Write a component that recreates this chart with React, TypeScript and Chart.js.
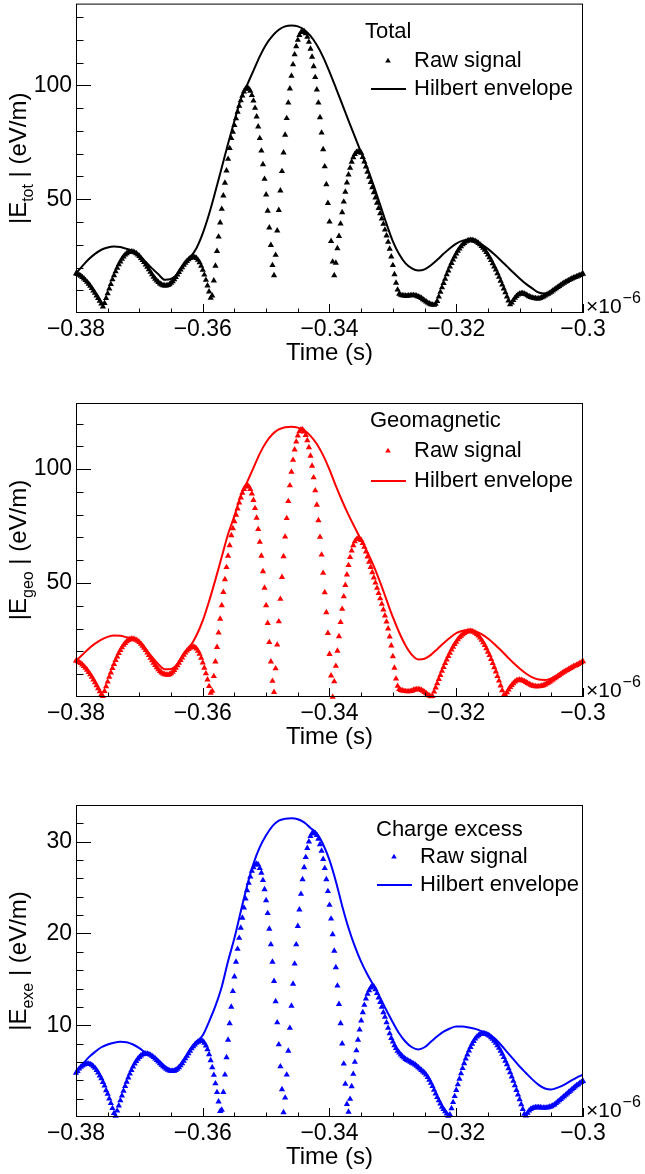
import React, { useEffect, useRef } from "react";
import { Chart, registerables } from "chart.js";

Chart.register(...registerables);

// ---------------- data ----------------
// sample times: raw signal every 0.25 ns, Hilbert envelope every 1 ns, starting at -0.38 µs
const TIME_START = -0.38; // µs
const RAW_STEP = 0.00025; // µs
const ENV_STEP = 0.001; // µs

const X_TICK_VALUES = [-0.38, -0.36, -0.34, -0.32, -0.3];
const X_TICK_LABELS = ["\u22120.38", "\u22120.36", "\u22120.34", "\u22120.32", "\u22120.3"];

const totalRaw = [
  17.3, 17.05, 16.7, 16.3, 15.7, 15.1, 14.4, 13.6,
  12.8, 11.9, 10.9, 9.8, 8.8, 7.6, 6.5, 5.3,
  4.1, 2.8, 4.3, 6.5, 8.6, 10.7, 12.7, 14.7,
  16.5, 18.25, 19.85, 21.3, 22.6, 23.8, 24.8, 25.6,
  26.2, 26.7, 26.9, 27.0, 26.9, 26.6, 26.2, 25.6,
  25.0, 24.1, 23.25, 22.3, 21.2, 20.2, 19.1, 18.0,
  16.9, 15.9, 15.0, 14.2, 13.5, 12.9, 12.45, 12.16,
  12.0, 12.03, 12.2, 12.6, 13.2, 13.9, 14.8, 15.7,
  16.8, 17.9, 19.0, 20.0, 21.1, 22.0, 22.8, 23.5,
  24.1, 24.4, 24.6, 24.5, 24.1, 23.3, 22.2, 20.65,
  18.9, 16.8, 14.5, 12.0, 9.4, 6.6, 7.6, 14.2,
  20.7, 27.2, 33.5, 39.7, 45.7, 51.6, 57.2, 62.6,
  67.7, 72.4, 76.8, 79.6, 82.5, 85.5, 88.4, 91.0,
  93.4, 95.5, 97.3, 98.5, 99.0, 98.6, 97.6, 95.7,
  93.3, 90.1, 86.3, 81.9, 76.8, 71.3, 65.3, 58.9,
  52.0, 44.9, 37.5, 29.8, 21.0, 16.5, 25.5, 36.2,
  45.2, 53.8, 62.3, 70.5, 78.3, 85.6, 92.4, 98.6,
  104.2, 109.2, 113.6, 117.2, 120.0, 122.1, 123.4, 124.0,
  123.8, 122.9, 121.3, 119.1, 116.1, 112.6, 108.4, 103.6,
  98.2, 92.4, 86.0, 79.2, 71.9, 64.4, 56.5, 48.3,
  40.1, 31.6, 22.5, 16.5, 22.0, 28.4, 33.8, 39.2,
  44.2, 48.9, 53.2, 57.3, 60.8, 63.8, 66.4, 68.4,
  69.8, 70.7, 71.0, 70.9, 70.4, 68.5, 66.5, 64.3,
  62.0, 59.8, 57.5, 55.2, 53.0, 50.7, 48.4, 46.1,
  43.8, 41.5, 39.1, 36.6, 34.0, 31.2, 28.2, 24.8,
  21.0, 17.0, 13.2, 10.2, 8.4, 7.9, 7.7, 7.6,
  7.5, 7.5, 7.6, 7.7, 7.8, 7.8, 7.7, 7.5,
  7.2, 6.9, 6.5, 6.0, 5.5, 5.0, 4.5, 4.1,
  3.8, 3.6, 3.5, 4.0, 5.2, 7.2, 9.2, 11.2,
  13.1, 15.0, 16.9, 18.6, 20.3, 21.9, 23.4, 24.8,
  26.1, 27.3, 28.3, 29.3, 30.1, 30.7, 31.3, 31.7,
  31.9, 32.0, 32.0, 31.8, 31.55, 31.2, 30.7, 30.1,
  29.4, 28.6, 27.7, 26.7, 25.6, 24.4, 23.2, 21.8,
  20.4, 19.0, 17.4, 15.8, 14.1, 12.4, 10.7, 9.0,
  7.2, 5.4, 3.8, 4.5, 5.6, 6.6, 7.4, 8.0,
  8.4, 8.6, 8.6, 8.4, 8.1, 7.7, 7.3, 7.0,
  6.7, 6.5, 6.4, 6.3, 6.3, 6.5, 6.8, 7.2,
  7.6, 8.0, 8.4, 8.8, 9.3, 9.8, 10.3, 10.8,
  11.3, 11.8, 12.3, 12.8, 13.2, 13.6, 14.0, 14.4,
  14.8, 15.1, 15.4, 15.7, 16.0, 16.3, 16.6, 16.9,
  17.2,
];

const totalEnv = [
  17.4, 20.6, 23.6, 26.0, 27.8, 28.8, 29.2, 29.0, 28.2, 27.1,
  25.3, 22.5, 19.6, 17.0, 14.6, 15.0, 17.2, 21.3, 24.4, 28.5,
  35.0, 43.5, 53.5, 64.0, 74.5, 84.5, 94.0, 100.3, 106.5, 112.8,
  118.0, 121.8, 124.5, 126.0, 126.4, 126.0, 124.5, 121.8, 117.8, 112.5,
  106.0, 99.0, 91.8, 84.6, 77.5, 70.5, 63.5, 55.8, 47.5, 39.2,
  31.5, 25.8, 21.8, 19.6, 18.7, 19.2, 21.0, 23.4, 26.0, 28.5,
  30.5, 31.8, 32.2, 31.6, 30.2, 28.2, 25.8, 23.2, 20.5, 17.8,
  15.2, 12.8, 10.8, 9.0, 8.6, 9.4, 11.4, 13.3, 14.9, 16.2,
  17.3,
];

const geoRaw = [
  15.9, 15.6, 15.25, 14.8, 14.2, 13.5, 12.7, 11.9,
  10.9, 9.9, 8.8, 7.6, 6.4, 5.1, 3.8, 2.4,
  1.1, 0.3, 2.55, 4.65, 6.7, 8.8, 10.7, 12.6,
  14.4, 16.2, 17.7, 19.2, 20.5, 21.7, 22.8, 23.6,
  24.4, 24.9, 25.3, 25.5, 25.5, 25.3, 25.0, 24.6,
  24.0, 23.3, 22.4, 21.5, 20.5, 19.4, 18.3, 17.1,
  16.0, 14.95, 13.9, 13.0, 12.1, 11.35, 10.7, 10.2,
  9.9, 9.73, 9.72, 9.9, 10.3, 10.96, 11.8, 12.7,
  13.8, 14.9, 16.1, 17.25, 18.4, 19.4, 20.3, 21.0,
  21.55, 21.9, 22.0, 21.8, 21.2, 20.2, 18.9, 17.1,
  15.1, 12.8, 10.3, 7.6, 4.7, 1.8, 2.6, 9.1,
  15.5, 21.9, 28.2, 34.3, 40.2, 46.0, 51.6, 56.9,
  61.9, 66.5, 70.9, 74.0, 77.0, 79.9, 82.6, 85.2,
  87.5, 89.5, 91.2, 92.3, 92.8, 92.4, 91.2, 89.2,
  86.4, 82.8, 78.6, 73.6, 68.0, 61.9, 55.1, 47.9,
  40.2, 32.4, 24.0, 15.5, 7.0, 2.1, 12.5, 22.9,
  33.1, 43.0, 52.6, 61.7, 70.3, 78.4, 85.9, 92.8,
  98.8, 104.0, 108.5, 112.0, 114.7, 116.5, 117.3, 117.3,
  116.4, 114.9, 112.6, 109.5, 105.8, 101.4, 96.3, 90.6,
  84.3, 77.5, 70.2, 62.4, 54.4, 45.9, 37.1, 28.0,
  18.8, 9.4, 0.0, 6.8, 13.6, 20.2, 26.6, 32.8,
  38.6, 44.1, 49.1, 53.7, 57.8, 61.3, 64.2, 66.5,
  68.2, 69.2, 69.5, 69.3, 68.8, 67.5, 65.8, 63.8,
  61.6, 59.3, 57.0, 54.7, 52.4, 50.1, 47.8, 45.5,
  43.2, 40.8, 38.3, 35.7, 33.0, 30.0, 26.5, 22.5,
  17.8, 12.8, 8.0, 4.8, 3.4, 3.0, 2.8, 2.6,
  2.5, 2.4, 2.4, 2.5, 2.7, 3.0, 3.2, 3.4,
  3.4, 3.3, 3.0, 2.6, 2.1, 1.6, 1.1, 0.6,
  0.2, 0.4, 2.3, 4.1, 6.0, 7.8, 9.6, 11.4,
  13.1, 14.8, 16.4, 17.9, 19.3, 20.7, 22.0, 23.2,
  24.2, 25.2, 26.1, 26.8, 27.5, 28.0, 28.4, 28.7,
  28.9, 28.9, 28.8, 28.5, 28.1, 27.6, 26.9, 26.0,
  25.0, 23.9, 22.7, 21.3, 19.8, 18.3, 16.6, 14.8,
  13.0, 11.1, 9.1, 7.1, 5.0, 2.9, 0.8, 0.9,
  2.0, 3.2, 4.3, 5.2, 6.0, 6.7, 7.2, 7.4,
  7.5, 7.4, 7.2, 6.9, 6.5, 6.1, 5.7, 5.3,
  5.0, 4.8, 4.65, 4.6, 4.6, 4.7, 4.9, 5.1,
  5.4, 5.8, 6.2, 6.6, 7.1, 7.6, 8.1, 8.6,
  9.1, 9.6, 10.1, 10.6, 11.0, 11.4, 11.8, 12.2,
  12.6, 13.0, 13.4, 13.7, 14.0, 14.4, 14.8, 15.2,
  15.6,
];

const geoEnv = [
  15.9, 18.5, 21.2, 23.4, 25.2, 26.4, 27.0, 26.9, 26.2, 25.7,
  24.3, 21.0, 17.6, 14.4, 12.2, 12.3, 14.5, 18.8, 22.2, 27.0,
  33.5, 42.0, 51.5, 61.5, 71.5, 79.5, 88.3, 94.3, 100.5, 106.8,
  111.8, 115.3, 117.4, 118.4, 118.6, 118.2, 117.0, 114.6, 111.0, 106.0,
  99.8, 92.6, 86.0, 79.9, 74.3, 68.9, 63.4, 57.3, 50.3, 42.6,
  35.0, 28.3, 22.6, 18.5, 16.5, 16.8, 18.5, 21.0, 23.6, 26.0,
  28.0, 29.1, 29.4, 28.9, 27.6, 25.7, 23.3, 20.6, 17.8, 15.0,
  12.5, 10.3, 8.6, 7.7, 7.5, 8.2, 9.6, 11.3, 12.9, 14.3,
  15.7,
];

const exeRaw = [
  4.8, 5.0, 5.25, 5.45, 5.6, 5.7, 5.78, 5.8,
  5.8, 5.75, 5.66, 5.5, 5.34, 5.1, 4.84, 4.5,
  4.2, 3.8, 3.4, 2.9, 2.5, 2.0, 1.5, 0.95,
  0.42, 0.11, 0.68, 1.23, 1.79, 2.33, 2.85, 3.36,
  3.83, 4.29, 4.71, 5.11, 5.47, 5.8, 6.09, 6.33,
  6.53, 6.69, 6.81, 6.88, 6.9, 6.88, 6.83, 6.75,
  6.65, 6.51, 6.36, 6.2, 6.02, 5.84, 5.67, 5.5,
  5.36, 5.23, 5.13, 5.05, 5.01, 5.0, 5.03, 5.11,
  5.24, 5.41, 5.61, 5.84, 6.1, 6.37, 6.65, 6.93,
  7.2, 7.46, 7.69, 7.89, 8.06, 8.19, 8.27, 8.3,
  8.26, 8.08, 7.78, 7.36, 6.82, 6.16, 5.4, 4.57,
  3.65, 2.69, 1.67, 0.63, 0.77, 2.7, 4.6, 6.5,
  8.4, 10.2, 12.0, 13.7, 15.3, 16.9, 18.3, 19.5,
  20.6, 21.7, 22.8, 23.8, 24.7, 25.5, 26.2, 26.8,
  27.2, 27.5, 27.6, 27.5, 27.1, 26.6, 25.8, 24.8,
  23.6, 22.2, 20.5, 18.8, 16.9, 14.8, 12.6, 10.3,
  7.9, 5.5, 3.0, 0.5, 2.1, 4.6, 7.2, 9.7,
  12.1, 14.5, 16.7, 18.8, 20.8, 22.6, 24.3, 25.9,
  27.2, 28.3, 29.3, 30.0, 30.6, 30.9, 31.0, 30.9,
  30.7, 30.3, 29.7, 29.0, 28.1, 27.1, 25.9, 24.6,
  23.1, 21.6, 19.9, 18.1, 16.3, 14.3, 12.3, 10.2,
  8.0, 5.8, 3.6, 1.4, 0.56, 1.96, 3.34, 4.68,
  5.99, 7.24, 8.4, 9.5, 10.5, 11.4, 12.2, 12.9,
  13.4, 13.8, 14.1, 14.3, 14.2, 13.9, 13.5, 13.0,
  12.5, 12.0, 11.4, 10.9, 10.3, 9.7, 9.1, 8.6,
  8.2, 7.8, 7.5, 7.2, 7.0, 6.8, 6.6, 6.45,
  6.3, 6.2, 6.1, 6.0, 5.9, 5.8, 5.7, 5.55,
  5.4, 5.25, 5.1, 4.95, 4.8, 4.6, 4.35, 4.05,
  3.7, 3.35, 2.95, 2.55, 2.15, 1.8, 1.45, 1.1,
  0.85, 0.6, 0.35, 0.12, 0.27, 0.94, 1.61, 2.26,
  2.92, 3.54, 4.16, 4.74, 5.31, 5.84, 6.34, 6.8,
  7.23, 7.62, 7.97, 8.27, 8.53, 8.74, 8.9, 9.02,
  9.08, 9.1, 9.08, 9.02, 8.94, 8.83, 8.68, 8.51,
  8.3, 8.07, 7.81, 7.52, 7.21, 6.87, 6.51, 6.12,
  5.73, 5.3, 4.85, 4.4, 3.92, 3.44, 2.93, 2.42,
  1.91, 1.38, 0.86, 0.32, 0.15, 0.45, 0.7, 0.85,
  0.95, 1.0, 1.05, 1.05, 1.05, 1.05, 1.0, 1.0,
  1.0, 1.0, 1.05, 1.1, 1.15, 1.25, 1.35, 1.5,
  1.65, 1.8, 1.95, 2.1, 2.25, 2.4, 2.55, 2.7,
  2.85, 3.0, 3.15, 3.3, 3.45, 3.55, 3.7, 3.8,
  3.9,
];

const exeEnv = [
  4.8, 5.7, 6.5, 7.1, 7.6, 7.9, 8.1, 8.2, 8.15, 7.9,
  7.5, 7.0, 6.7, 6.2, 5.55, 5.15, 5.35, 6.2, 7.3, 8.2,
  8.9, 10.4, 12.1, 14.2, 17.0, 19.5, 22.4, 25.2, 27.6, 29.4,
  30.7, 31.7, 32.3, 32.5, 32.55, 32.45, 32.1, 31.5, 30.9, 29.7,
  28.0, 25.7, 23.0, 20.6, 18.6, 16.9, 15.5, 14.3, 13.0, 11.6,
  10.3, 9.1, 8.2, 7.6, 7.35, 7.6, 8.2, 8.8, 9.3, 9.65,
  9.85, 9.85, 9.75, 9.6, 9.35, 9.1, 8.6, 7.9, 7.1, 6.3,
  5.5, 4.8, 4.1, 3.5, 3.1, 3.0, 3.2, 3.5, 3.9, 4.3,
  4.6,
];

// ---------------- layout / style ----------------
const FONT = '"Liberation Sans", Arial, Helvetica, sans-serif';
const PAGE_W = 645;
const FRAME_LEFT = 76;
const FRAME_RIGHT = 583;

type Panel = {
  raw: number[];
  env: number[];
  color: string;
  header: string;
  sub: string;
  yMax: number;
  yLabels: number[];
  yMajor: number;
  yMinor: number;
  canvasTop: number;
  canvasH: number;
  frameTop: number;
  frameBottom: number;
  headerX: number;
  legendX: number;
  legendY: number[];
};

const PANELS: Panel[] = [
  {
    raw: totalRaw, env: totalEnv, color: "#000000", header: "Total", sub: "tot",
    yMax: 136, yLabels: [50, 100], yMajor: 50, yMinor: 10,
    canvasTop: 0, canvasH: 385, frameTop: 3, frameBottom: 313,
    headerX: 365, legendX: 414, legendY: [32, 61, 89],
  },
  {
    raw: geoRaw, env: geoEnv, color: "#ff0000", header: "Geomagnetic", sub: "geo",
    yMax: 129, yLabels: [50, 100], yMajor: 50, yMinor: 10,
    canvasTop: 385, canvasH: 395, frameTop: 403, frameBottom: 697,
    headerX: 370, legendX: 414, legendY: [421, 451, 481],
  },
  {
    raw: exeRaw, env: exeEnv, color: "#0000ff", header: "Charge excess", sub: "exe",
    yMax: 34, yLabels: [10, 20, 30], yMajor: 10, yMinor: 2,
    canvasTop: 780, canvasH: 394, frameTop: 805, frameBottom: 1117,
    headerX: 376, legendX: 420, legendY: [830, 857, 885],
  },
];

function toPoints(values: number[], step: number) {
  return values.map((v, i) => ({ x: TIME_START + i * step, y: v }));
}

function drawTriangle(ctx: CanvasRenderingContext2D, x: number, y: number, r: number) {
  ctx.beginPath();
  for (let k = 0; k < 3; k++) {
    const a = (k * 2 * Math.PI) / 3;
    const px = x + Math.sin(a) * r;
    const py = y - Math.cos(a) * r;
    if (k === 0) ctx.moveTo(px, py);
    else ctx.lineTo(px, py);
  }
  ctx.closePath();
  ctx.fill();
}

function makeDecor(panel: Panel) {
  return {
    id: "rootDecor",
    afterDraw(chart: any) {
      const { ctx, chartArea: a, scales } = chart;
      const xs = scales.x;
      const ys = scales.y;
      const off = panel.canvasTop;
      ctx.save();
      ctx.strokeStyle = "#000";
      ctx.lineWidth = 1;
      // frame
      ctx.strokeRect(a.left + 0.5, a.top + 0.5, a.right - a.left - 1, a.bottom - a.top - 1);
      // x ticks (inside)
      ctx.beginPath();
      for (let k = 0; k <= 16; k++) {
        const v = -0.38 + k * 0.005;
        const px = Math.round(xs.getPixelForValue(v)) + 0.5;
        const len = k % 4 === 0 ? 9 : 4.5;
        ctx.moveTo(px, a.bottom);
        ctx.lineTo(px, a.bottom - len);
      }
      // y ticks (inside)
      const n = Math.floor(panel.yMax / panel.yMinor + 1e-6);
      for (let k = 1; k <= n; k++) {
        const v = k * panel.yMinor;
        const py = Math.round(ys.getPixelForValue(v)) + 0.5;
        const isMajor = Math.abs(v / panel.yMajor - Math.round(v / panel.yMajor)) < 1e-6;
        const len = isMajor ? 15 : 7.5;
        ctx.moveTo(a.left, py);
        ctx.lineTo(a.left + len, py);
      }
      ctx.stroke();

      ctx.fillStyle = "#000";
      // x10^-6
      ctx.textAlign = "left";
      ctx.textBaseline = "alphabetic";
      ctx.font = `21px ${FONT}`;
      ctx.fillText("\u00d710", 586, a.bottom);
      const w10 = ctx.measureText("\u00d710").width;
      ctx.font = `16px ${FONT}`;
      ctx.fillText("\u22126", 586 + w10 + 1, a.bottom - 10);

      // y-axis title with subscript
      const cy = (a.top + a.bottom) / 2;
      const big = `24px ${FONT}`;
      const small = `16px ${FONT}`;
      ctx.font = big;
      const w1 = ctx.measureText("|E").width;
      const w3 = ctx.measureText(" |").width;
      const w4 = ctx.measureText(" (eV/m)").width;
      ctx.font = small;
      const w2 = ctx.measureText(panel.sub).width;
      const total = w1 + w2 + w3 + w4;
      ctx.save();
      ctx.translate(26, cy);
      ctx.rotate(-Math.PI / 2);
      let tx = -total / 2;
      ctx.font = big;
      ctx.fillText("|E", tx, 0);
      tx += w1;
      ctx.font = small;
      ctx.fillText(panel.sub, tx, 7);
      tx += w2;
      ctx.font = big;
      ctx.fillText(" |", tx, 0);
      tx += w3;
      ctx.fillText(" (eV/m)", tx, 0);
      ctx.restore();

      // legend
      ctx.font = `22px ${FONT}`;
      ctx.textBaseline = "middle";
      ctx.fillStyle = "#000";
      ctx.fillText(panel.header, panel.headerX, panel.legendY[0] - off);
      ctx.fillText("Raw signal", panel.legendX, panel.legendY[1] - off);
      ctx.fillText("Hilbert envelope", panel.legendX, panel.legendY[2] - off);
      ctx.fillStyle = panel.color;
      drawTriangle(ctx, panel.legendX - 26, panel.legendY[1] - off, 3.2);
      ctx.strokeStyle = panel.color;
      ctx.lineWidth = 2;
      ctx.beginPath();
      ctx.moveTo(panel.legendX - 43, panel.legendY[2] - off);
      ctx.lineTo(panel.legendX - 8, panel.legendY[2] - off);
      ctx.stroke();
      ctx.restore();
    },
  };
}

function buildConfig(panel: Panel): any {
  const frameTopLocal = panel.frameTop - panel.canvasTop;
  const frameBottomLocal = panel.frameBottom - panel.canvasTop;
  const xAxisH = panel.canvasH - frameBottomLocal;
  const titleLH = 24 * 1.2;
  const titlePadBottom = Math.max(0, xAxisH - 40 - titleLH / 2);
  const tickLH = 23 * 1.2;
  const tickPad = 17 - tickLH / 2;
  return {
    type: "scatter",
    data: {
      datasets: [
        {
          label: "Hilbert envelope",
          data: toPoints(panel.env, ENV_STEP),
          showLine: true,
          borderColor: panel.color,
          backgroundColor: panel.color,
          borderWidth: 2,
          pointRadius: 0,
          pointHoverRadius: 0,
          cubicInterpolationMode: "monotone",
          fill: false,
          order: 0,
        },
        {
          label: "Raw signal",
          data: toPoints(panel.raw, RAW_STEP),
          showLine: false,
          pointStyle: "triangle",
          pointRadius: 3.6,
          pointHoverRadius: 3.6,
          pointBackgroundColor: panel.color,
          pointBorderColor: panel.color,
          pointBorderWidth: 0,
          backgroundColor: panel.color,
          borderColor: panel.color,
          clip: false,
          order: 1,
        },
      ],
    },
    options: {
      responsive: false,
      maintainAspectRatio: false,
      animation: false,
      events: [],
      layout: { padding: { top: frameTopLocal, left: 0, right: PAGE_W - FRAME_RIGHT, bottom: 0 } },
      plugins: {
        legend: { display: false },
        tooltip: { enabled: false },
        title: { display: false },
      },
      scales: {
        x: {
          type: "linear",
          position: "bottom",
          min: -0.38,
          max: -0.3,
          afterBuildTicks: (s: any) => {
            s.ticks = X_TICK_VALUES.map((v) => ({ value: v }));
          },
          afterFit: (s: any) => {
            s.height = xAxisH;
            s.paddingLeft = 0;
            s.paddingRight = 0;
          },
          grid: { display: false, drawTicks: false },
          border: { display: false },
          ticks: {
            autoSkip: false,
            maxRotation: 0,
            minRotation: 0,
            padding: tickPad,
            color: "#000",
            font: { family: FONT, size: 23 },
            callback: (_v: any, i: number) => X_TICK_LABELS[i],
          },
          title: {
            display: true,
            text: "Time (s)",
            color: "#000",
            font: { family: FONT, size: 24 },
            padding: { top: 0, bottom: titlePadBottom },
          },
        },
        y: {
          type: "linear",
          position: "left",
          min: 0,
          max: panel.yMax,
          afterBuildTicks: (s: any) => {
            s.ticks = panel.yLabels.map((v) => ({ value: v }));
          },
          afterFit: (s: any) => {
            s.width = FRAME_LEFT;
            s.paddingTop = 0;
            s.paddingBottom = 0;
          },
          grid: { display: false, drawTicks: false },
          border: { display: false },
          ticks: {
            padding: 4,
            color: "#000",
            font: { family: FONT, size: 23 },
            callback: (v: any) => String(v),
          },
        },
      },
    },
    plugins: [makeDecor(panel)],
  };
}

function PanelChart({ panel }: { panel: Panel }) {
  const ref = useRef<HTMLCanvasElement | null>(null);
  useEffect(() => {
    if (!ref.current) return;
    const chart = new Chart(ref.current, buildConfig(panel));
    return () => chart.destroy();
  }, [panel]);
  return (
    <canvas
      ref={ref}
      width={PAGE_W}
      height={panel.canvasH}
      style={{
        position: "absolute",
        left: 0,
        top: panel.canvasTop,
        width: PAGE_W,
        height: panel.canvasH,
        display: "block",
      }}
    />
  );
}

export default function App() {
  return (
    <div
      style={{
        position: "absolute",
        left: 0,
        top: 0,
        width: PAGE_W,
        height: 1174,
        background: "#ffffff",
        overflow: "hidden",
      }}
    >
      {PANELS.map((p) => (
        <PanelChart key={p.header} panel={p} />
      ))}
    </div>
  );
}
